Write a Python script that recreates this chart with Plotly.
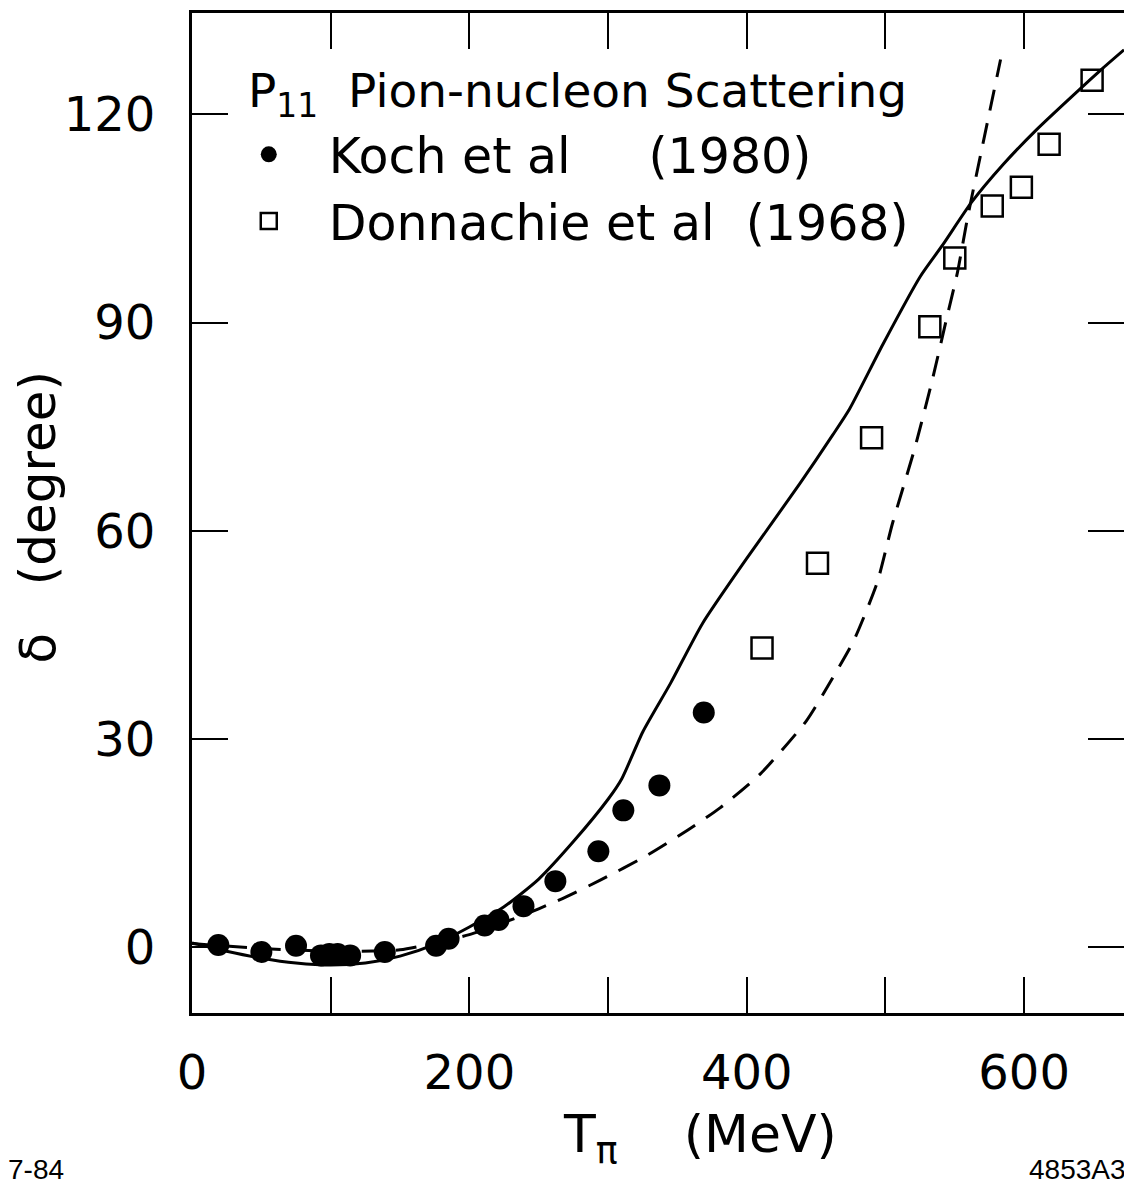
import plotly.graph_objects as go

# Koch et al (1980) - filled circles
koch_T = [19, 50, 75, 93, 99, 105, 114, 139, 176, 185, 211, 221, 239, 262, 293, 311, 337, 369]
koch_d = [0.3, -0.7, 0.2, -1.2, -1.0, -1.0, -1.2, -0.7, 0.2, 1.2, 3.1, 3.9, 5.9, 9.5, 13.8, 19.7, 23.3, 33.8]

# Donnachie et al (1968) - open squares
donn_T = [411, 451, 490, 532, 550, 577, 598, 618, 649]
donn_d = [43.1, 55.3, 73.4, 89.4, 99.3, 106.8, 109.5, 115.7, 124.9]

# Solid curve
solid_T = [0, 25, 50, 75, 100, 125, 150, 175, 200, 225, 250, 275, 300, 310, 325, 345, 368,
           400, 438, 462, 474, 498, 525, 541, 562, 585, 609, 640, 657, 672]
solid_d = [0.6, -0.6, -1.6, -2.3, -2.6, -2.3, -1.3, 0.4, 2.9, 5.8, 9.8, 15.2, 21.3, 24.3, 31.0, 38.0, 46.6,
           56.0, 66.7, 73.8, 77.5, 86.8, 96.6, 101.1, 107.3, 112.8, 117.8, 123.6, 126.7, 129.3]

# Dashed curve
dash_T = [0, 50, 100, 150, 200, 235, 265, 294, 328, 357, 381, 410, 443, 462, 477, 494, 505,
          521, 534, 544, 552, 559, 570, 583]
dash_d = [0.5, -0.2, -0.6, -0.4, 1.8, 4.3, 6.8, 9.6, 13.2, 16.8, 20.1, 25.0, 32.6, 38.8, 44.1, 52.5, 61.0,
          71.8, 81.9, 90.5, 97.3, 104.9, 115.5, 127.9]

x_ticks = [0, 100, 200, 300, 400, 500, 600]
x_ticktext = ["0", " ", "200", " ", "400", " ", "600"]
y_ticks = [0, 30, 60, 90, 120]
y_ticktext = ["0", "30", "60", "90", "120"]

FONT = "DejaVu Sans"
NB = "\u00a0"

fig = go.Figure()
fig.add_trace(go.Scatter(x=solid_T, y=solid_d, mode="lines", showlegend=False,
                         line=dict(color="black", width=3, shape="spline", smoothing=0.6)))
fig.add_trace(go.Scatter(x=dash_T, y=dash_d, mode="lines", showlegend=False,
                         line=dict(color="black", width=3, dash="21px,13px", shape="spline", smoothing=0.6)))
fig.add_trace(go.Scatter(x=koch_T, y=koch_d, mode="markers",
                         name="Koch et al" + NB * 5 + "(1980)",
                         marker=dict(symbol="circle", size=22, color="black")))
fig.add_trace(go.Scatter(x=donn_T, y=donn_d, mode="markers",
                         name="Donnachie et al" + NB * 2 + "(1968)",
                         marker=dict(symbol="square-open", size=21, color="black",
                                     line=dict(width=2.5, color="black"))))

axis_common = dict(showline=True, linecolor="black", linewidth=3, mirror="ticks",
                   ticks="inside", ticklen=36, tickwidth=2, tickcolor="black",
                   showgrid=False, zeroline=False,
                   tickfont=dict(family=FONT, size=48, color="black"))

fig.update_xaxes(range=[0, 672], tickvals=x_ticks, ticktext=x_ticktext,
                 ticklabelstandoff=15, **axis_common)
fig.update_yaxes(range=[-9.5, 134.6], tickvals=y_ticks, ticktext=y_ticktext,
                 ticklabelstandoff=24, **axis_common)

# page body has an 8px margin: figure is sized/offset to compensate
fig.update_layout(
    width=1124, height=1185,
    margin=dict(l=184, r=8, t=2, b=180),
    paper_bgcolor="white", plot_bgcolor="white",
    showlegend=True,
    legend=dict(
        x=0.018, y=0.897, xanchor="left", yanchor="top",
        bgcolor="rgba(0,0,0,0)", borderwidth=0,
        font=dict(family=FONT, size=49, color="black"),
        itemwidth=110, tracegroupgap=0,
    ),
    annotations=[
        dict(text="P<sub>11</sub>" + NB * 2 + "Pion-nucleon Scattering", xref="paper", yref="paper",
             x=(246 - 192) / 932, y=1 - (91 - 10) / 1003, xanchor="left", yanchor="middle",
             showarrow=False, font=dict(family=FONT, size=47, color="black")),
        dict(text="T<sub>π</sub>" + NB * 4 + "(MeV)", xref="paper", yref="paper",
             x=(700 - 192) / 932, y=-(1138 - 1013) / 1003, xanchor="center", yanchor="middle",
             showarrow=False, font=dict(family=FONT, size=52, color="black")),
        dict(text="δ" + NB * 3 + "(degree)", xref="paper", yref="paper", textangle=-90,
             x=(38 - 192) / 932, y=1 - (516 - 10) / 1003, xanchor="center", yanchor="middle",
             showarrow=False, font=dict(family=FONT, size=50, color="black")),
        dict(text="7-84", xref="paper", yref="paper",
             x=(6 - 192) / 932, y=-(1170 - 1013) / 1003, xanchor="left", yanchor="middle",
             showarrow=False, font=dict(family="Liberation Sans", size=28, color="black")),
        dict(text="4853A3", xref="paper", yref="paper",
             x=(1128 - 192) / 932, y=-(1170 - 1013) / 1003, xanchor="right", yanchor="middle",
             showarrow=False, font=dict(family="Liberation Sans", size=28, color="black")),
    ],
)

fig.write_html("out.html")
